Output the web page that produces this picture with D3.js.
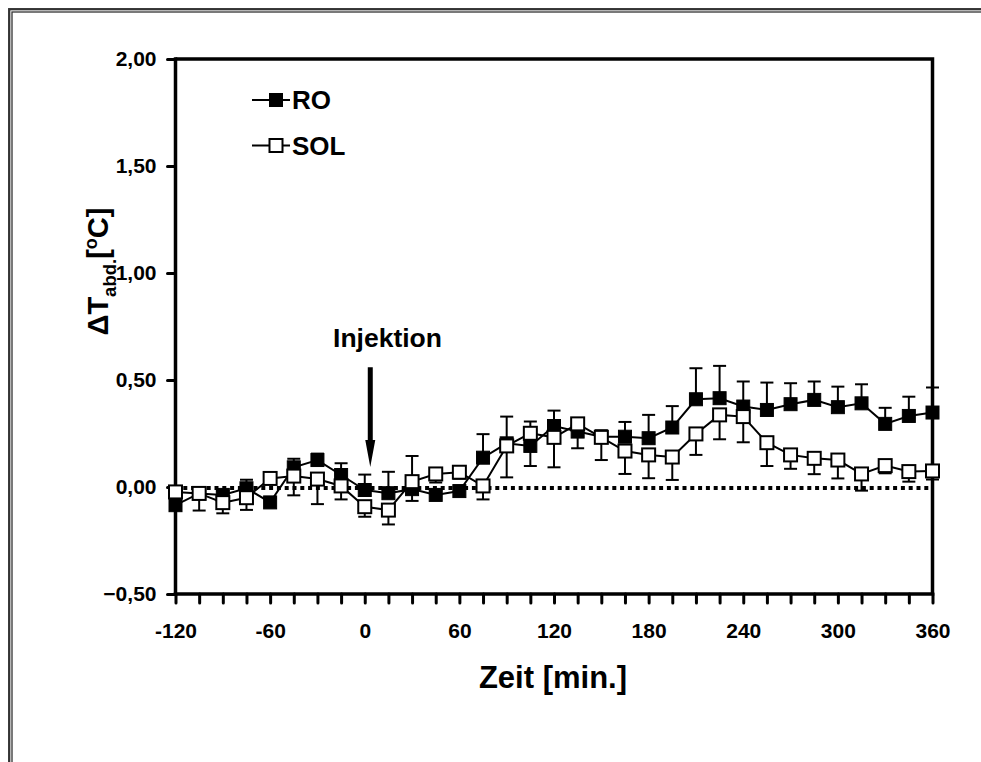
<!DOCTYPE html>
<html><head><meta charset="utf-8">
<script src="https://cdn.jsdelivr.net/npm/d3@7"></script>
<style>
body{margin:0;background:#fff}
svg{display:block}
text{font-family:"Liberation Sans",Arial,sans-serif;font-weight:bold;fill:#000}
</style>
</head><body>
<svg id="c" width="981" height="762"></svg>
<script>
// ---- data ----
const times   = [-120,-105,-90,-75,-60,-45,-30,-15,0,15,30,45,60,75,90,105,120,135,150,165,180,195,210,225,240,255,270,285,300,315,330,345,360];
const roMean  = [-0.085,-0.03,-0.037,-0.006,-0.072,0.092,0.126,0.056,-0.014,-0.029,-0.01,-0.037,-0.019,0.137,0.204,0.192,0.285,0.259,0.235,0.235,0.228,0.278,0.41,0.415,0.376,0.36,0.387,0.407,0.373,0.391,0.295,0.332,0.348];
const roErr   = [0.04,0.03,0.02,0.04,0.02,0.04,0.03,0.055,0.072,0.10,0.155,0.02,0.02,0.11,0.125,0.114,0.072,0.03,0.03,0.069,0.109,0.10,0.145,0.151,0.117,0.128,0.098,0.086,0.096,0.089,0.075,0.09,0.117];
const solMean = [-0.023,-0.03,-0.073,-0.05,0.04,0.051,0.037,0.005,-0.092,-0.108,0.025,0.061,0.069,0.005,0.192,0.251,0.232,0.295,0.232,0.168,0.15,0.14,0.248,0.337,0.329,0.207,0.15,0.134,0.126,0.061,0.1,0.072,0.075];
const solErr  = [0.03,0.08,0.05,0.057,0.02,0.09,0.117,0.063,0.047,0.067,0.09,0.04,0.03,0.063,0.147,0.153,0.14,0.114,0.106,0.107,0.109,0.107,0.098,0.114,0.12,0.109,0.065,0.074,0.086,0.078,0.036,0.047,0.04];
const seriesNames = ["RO","SOL"];
const xTickLabels = [-120,-60,0,60,120,180,240,300,360];
const xMinorStep = 15;
const yTickValues = [-0.5,0,0.5,1,1.5,2];
const injection = {label:"Injektion", x:3.5, top:0.56, tip:0.094};

// ---- layout ----
const svg = d3.select("#c");
const x = d3.scaleLinear().domain([-120,360]).range([175.5,932.5]);
const y = d3.scaleLinear().domain([-0.5,2]).range([594,59]);
const AX = 3.5;

// outer double frame
svg.append("rect").attr("x",9.2).attr("y",9.2).attr("width",1100).attr("height",1100)
  .attr("fill","none").attr("stroke","#333").attr("stroke-width",2.3);
svg.append("rect").attr("x",12).attr("y",12).attr("width",1100).attr("height",1100)
  .attr("fill","none").attr("stroke","#333").attr("stroke-width",1.3);

// zero dotted line
svg.append("line").attr("x1",x(-120)).attr("x2",x(360)).attr("y1",y(0)+1).attr("y2",y(0)+1)
  .attr("stroke","#000").attr("stroke-width",4).attr("stroke-dasharray","4,3.8");

// plot frame top/right
svg.append("path")
  .attr("d",`M${x(-120)},${y(2)}H${x(360)}V${y(-0.5)}`)
  .attr("fill","none").attr("stroke","#000").attr("stroke-width",AX).attr("stroke-linejoin","miter");

// axes
const fmtY = d => d3.format(".2f")(d).replace(".",",");
const xTicks = d3.range(-120,361,xMinorStep);
const xAxis = d3.axisBottom(x).tickValues(xTicks).tickSize(9).tickSizeOuter(0).tickPadding(20)
  .tickFormat(d => xTickLabels.includes(d) ? String(d) : "");
const gx = svg.append("g").attr("transform",`translate(0,${y(-0.5)})`).call(xAxis);
const yAxis = d3.axisLeft(y).tickValues(yTickValues).tickSize(8).tickSizeOuter(0).tickPadding(11)
  .tickFormat(fmtY);
const gy = svg.append("g").attr("transform",`translate(${x(-120)},0)`).call(yAxis);
[gx,gy].forEach(g=>{
  g.select(".domain").attr("stroke","#000").attr("stroke-width",AX);
  g.selectAll(".tick line").attr("stroke","#000").attr("stroke-width",3).attr("stroke-linecap","round");
  g.selectAll(".tick text").attr("font-size",21).attr("font-family",'"Liberation Sans",Arial,sans-serif').attr("font-weight","bold").attr("fill","#000");
});
gx.select(".domain").attr("d",`M${x(-120)-AX/2},0H${x(360)+AX/2}`);
gy.select(".domain").attr("d",`M0,${y(2)-AX/2}V${y(-0.5)+AX/2}`);

// series
const MS = 13;
const line = d3.line().x((d,i)=>x(times[i])).y(d=>y(d));
function drawSeries(mean, err, dir, filled){
  const g = svg.append("g");
  g.append("path").datum(mean).attr("d",line).attr("fill","none").attr("stroke","#000").attr("stroke-width",2);
  const eb = g.append("g");
  mean.forEach((m,i)=>{
    const e = m + dir*err[i];
    eb.append("line").attr("x1",x(times[i])).attr("x2",x(times[i])).attr("y1",y(m)).attr("y2",y(e))
      .attr("stroke","#000").attr("stroke-width",2);
    eb.append("line").attr("x1",x(times[i])-6.5).attr("x2",x(times[i])+6.5).attr("y1",y(e)).attr("y2",y(e))
      .attr("stroke","#000").attr("stroke-width",2);
  });
  g.selectAll("rect.m").data(mean).join("rect").attr("class","m")
    .attr("x",(d,i)=>x(times[i])-MS/2).attr("y",d=>y(d)-MS/2)
    .attr("width",MS).attr("height",MS)
    .attr("fill",filled?"#000":"#fff").attr("stroke","#000").attr("stroke-width",filled?1:2);
}
drawSeries(roMean, roErr, +1, true);
drawSeries(solMean, solErr, -1, false);

// legend
const legY = [100,145.5];
seriesNames.forEach((n,i)=>{
  const g = svg.append("g");
  g.append("line").attr("x1",252).attr("x2",290).attr("y1",legY[i]).attr("y2",legY[i]).attr("stroke","#000").attr("stroke-width",2);
  g.append("rect").attr("x",276-MS/2).attr("y",legY[i]-MS/2).attr("width",MS).attr("height",MS)
    .attr("fill",i===0?"#000":"#fff").attr("stroke","#000").attr("stroke-width",i===0?1:2);
  g.append("text").attr("x",292).attr("y",legY[i]+9).attr("font-size",26).text(n);
});

// injection annotation
svg.append("text").attr("x",387.5).attr("y",347).attr("font-size",26.5).attr("text-anchor","middle").text(injection.label);
const ax0 = x(injection.x), yTop = y(injection.top), yTip = y(injection.tip);
svg.append("path")
  .attr("d",`M${ax0-2.5},${yTop}H${ax0+2.5}V${yTip-27}H${ax0+5}L${ax0},${yTip}L${ax0-5},${yTip-27}H${ax0-2.5}Z`)
  .attr("fill","#000");

// axis titles
svg.append("text").attr("x",x(120)-1).attr("y",688).attr("font-size",31).attr("text-anchor","middle").text("Zeit [min.]");
const yt = svg.append("text").attr("transform","translate(108,271.5) rotate(-90)")
  .attr("text-anchor","middle").attr("font-size",29);
yt.append("tspan").text("\u0394T");
yt.append("tspan").attr("font-size",18.5).attr("dy",8).text("abd.");
yt.append("tspan").attr("dy",-8).text("[");
yt.append("tspan").attr("font-size",18).attr("dy",-11).text("o");
yt.append("tspan").attr("dy",11).text("C]");
</script>
</body></html>
